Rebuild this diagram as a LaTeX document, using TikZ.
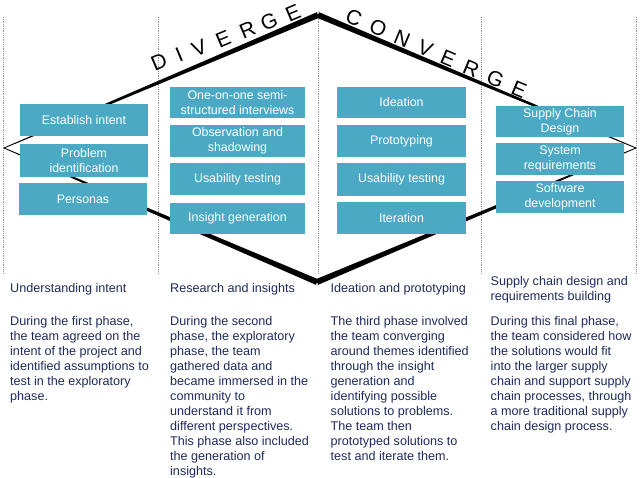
\documentclass[tikz,border=0pt]{standalone}
\usepackage{fontspec}
\setmainfont{Liberation Sans}
\definecolor{boxteal}{RGB}{75,169,195}
\definecolor{navy}{RGB}{30,42,92}
\definecolor{dotgray}{RGB}{150,150,150}
\begin{document}
\begin{tikzpicture}[x=1pt,y=-1pt,
  phase/.style={fill=boxteal, text=white, inner sep=0pt, minimum height=32pt,
    align=center, font=\fontsize{12.4}{15}\selectfont},
  sepline/.style={draw=dotgray, line width=0.9pt, dash pattern=on 0.9pt off 0.9pt},
  desc/.style={anchor=north west, inner sep=0pt, align=left, text=navy,
    font=\fontsize{12.6}{15}\selectfont},
  big/.style={font=\fontsize{21}{21}\selectfont, inner xsep=0pt, sloped, anchor=south}
]
\useasboundingbox (0,0) rectangle (640,478);

% separators
\foreach \x/\n in {3/a,158/b,318/c,481/d,636/e}{
  \coordinate (\n top) at (\x,17);
  \coordinate (\n bot) at (\x,273);
  \draw[sepline] (\n top) -- (\n bot);
}

% diamond
\coordinate (L) at (4,148);
\coordinate (T) at (318,15);
\coordinate (R) at (636,148);
\coordinate (B) at (317,282);
\fill[black] (4.16,148.37) -- (319.17,17.76) -- (316.83,12.24) -- (3.84,147.63) -- cycle;
\fill[black] (316.84,17.77) -- (319.16,12.23) -- (636.15,147.63) -- (635.85,148.37) -- cycle;
\fill[black] (316.83,12.24) -- (318,11.74) -- (319.16,12.23) -- cycle;
\fill[black] (3.84,148.37) -- (315.82,284.76) -- (318.18,279.24) -- (4.16,147.63) -- cycle;
\fill[black] (318.16,284.77) -- (315.84,279.23) -- (635.85,147.63) -- (636.15,148.37) -- cycle;
\fill[black] (315.82,284.76) -- (317,285.26) -- (318.16,284.77) -- cycle;

% DIVERGE
\path (L) -- (T)
  node[big, pos=0.517, inner ysep=11pt] (d1) {D}
  node[big, pos=0.580, inner ysep=9.9pt] (d2) {I}
  node[big, pos=0.642, inner ysep=8.8pt] (d3) {V}
  node[big, pos=0.717, inner ysep=7.75pt] (d4) {E}
  node[big, pos=0.793, inner ysep=6.7pt] (d5) {R}
  node[big, pos=0.861, inner ysep=5.6pt] (d6) {G}
  node[big, pos=0.935, inner ysep=4.5pt] (d7) {E};
% CONVERGE
\path (T) -- (R)
  node[big, pos=0.099, inner ysep=4pt] (c1) {C}
  node[big, pos=0.176, inner ysep=3.6pt] (c2) {O}
  node[big, pos=0.252, inner ysep=3.3pt] (c3) {N}
  node[big, pos=0.325, inner ysep=3pt] (c4) {V}
  node[big, pos=0.397, inner ysep=2.6pt] (c5) {E}
  node[big, pos=0.470, inner ysep=2.3pt] (c6) {R}
  node[big, pos=0.546, inner ysep=2pt] (c7) {G}
  node[big, pos=0.621, inner ysep=1.7pt] (c8) {E};

% column 1 boxes
\node[phase, minimum width=128pt] (b11) at (84,120) {Establish intent};
\node[phase, minimum width=128pt, minimum height=33pt] (b12) at (84,160.5) {Problem\\identification};
\node[phase, minimum width=128pt] (b13) at (83,199) {Personas};
% column 2
\node[phase, minimum width=135pt, minimum height=31pt] (b21) at (237.5,102.5) {One-on-one semi-\\structured interviews};
\node[phase, minimum width=135pt] (b22) at (237.5,141) {Observation and\\shadowing};
\node[phase, minimum width=135pt] (b23) at (237.5,179) {Usability testing};
\node[phase, minimum width=135pt, minimum height=31pt] (b24) at (237.5,218.5) {Insight generation};
% column 3
\node[phase, minimum width=129pt, minimum height=31pt] (b31) at (401.5,102.5) {Ideation};
\node[phase, minimum width=129pt] (b32) at (401.5,141) {Prototyping};
\node[phase, minimum width=129pt, minimum height=33pt] (b33) at (401.5,179.5) {Usability testing};
\node[phase, minimum width=129pt] (b34) at (401.5,218) {Iteration};
% column 4
\node[phase, minimum width=128pt, minimum height=31pt] (b41) at (560,121.5) {Supply Chain\\Design};
\node[phase, minimum width=128pt] (b42) at (560,159) {System\\requirements};
\node[phase, minimum width=128pt] (b43) at (560,197) {Software\\development};

% descriptions
\node[desc] (t1) at (10,281.5) {\strut Understanding intent};
\node[desc] (p1) at (10,314.5) {\strut During the first phase,\\the team agreed on the\\intent of the project and\\identified assumptions to\\test in the exploratory\\phase.};
\node[desc] (t2) at (170,281.5) {\strut Research and insights};
\node[desc] (p2) at (170,314.5) {\strut During the second\\phase, the exploratory\\phase, the team\\gathered data and\\became immersed in the\\community to\\understand it from\\different perspectives.\\This phase also included\\the generation of\\insights.};
\node[desc] (t3) at (330.5,281.5) {\strut Ideation and prototyping};
\node[desc] (p3) at (330.5,314.5) {\strut The third phase involved\\the team converging\\around themes identified\\through the insight\\generation and\\identifying possible\\solutions to problems.\\The team then\\prototyped solutions to\\test and iterate them.};
\node[desc] (t4) at (490.5,274.5) {\strut Supply chain design and\\requirements building};
\node[desc] (p4) at (490.5,314.5) {\strut During this final phase,\\the team considered how\\the solutions would fit\\into the larger supply\\chain and support supply\\chain processes, through\\a more traditional supply\\chain design process.};
\end{tikzpicture}
\end{document}
